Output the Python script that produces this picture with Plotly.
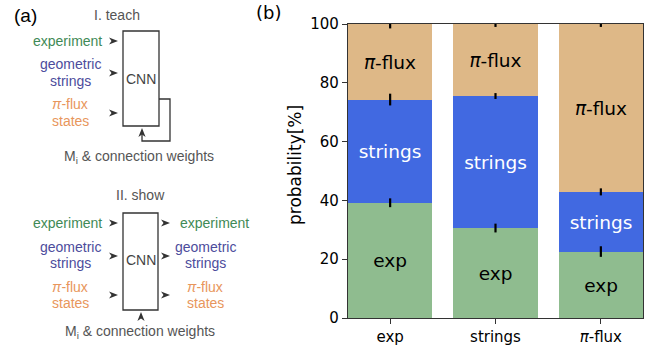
import plotly.graph_objects as go

# ---------------- data (panel b) ----------------
categories = ["exp", "strings", "<i>π</i>-flux"]
exp_vals = [39.2, 30.6, 22.6]
strings_vals = [35.1, 44.9, 20.3]
pflux_vals = [25.7, 24.5, 57.1]
exp_err = [1.5, 1.5, 1.8]
strings_err = [2.0, 1.0, 1.2]
pflux_err = [1.5, 1.0, 1.0]
segment_labels = ["exp", "strings", "<i>π</i>-flux"]
yticks = [0, 20, 40, 60, 80, 100]

W, H = 654, 349
X = lambda px: px / W
Y = lambda py: 1 - py / H

fig = go.Figure()
series = [
    (exp_vals, exp_err, "#8fbc8f", segment_labels[0], "black"),
    (strings_vals, strings_err, "#4169e1", segment_labels[1], "white"),
    (pflux_vals, pflux_err, "#deb887", segment_labels[2], "black"),
]
xs = [0, 1, 2]
for vals, err, col, lab, tcol in series:
    fig.add_trace(go.Bar(
        x=xs, y=vals, width=0.8, marker=dict(color=col, line=dict(width=0)),
        text=[lab] * len(vals), textposition="inside", insidetextanchor="middle",
        textangle=0, textfont=dict(family="DejaVu Sans", size=18.5, color=tcol),
        showlegend=False, hoverinfo="skip",
    ))

# error bars at the top of each stacked segment (drawn above all bars)
cum = [0.0] * len(xs)
for vals, err, col, lab, tcol in series:
    cum = [c + v for c, v in zip(cum, vals)]
    fig.add_trace(go.Scatter(
        x=xs, y=cum, mode="markers", marker=dict(size=1, opacity=0),
        error_y=dict(type="data", array=err, visible=True, color="black", thickness=2.2, width=0),
        showlegend=False, hoverinfo="skip",
    ))

axfont = dict(family="DejaVu Sans", size=15, color="black")
fig.update_layout(
    width=W, height=H, barmode="stack", bargap=0,
    margin=dict(l=0, r=0, t=0, b=0),
    paper_bgcolor="white", plot_bgcolor="white",
    xaxis=dict(domain=[348 / W, 643 / W], range=[-0.4, 2.4], tickvals=xs,
               ticktext=categories, ticks="outside", ticklen=5, tickwidth=1.2,
               tickcolor="#333", showline=True, linecolor="#333", linewidth=1.3,
               mirror=True, showgrid=False, zeroline=False, tickfont=axfont,
               automargin=False),
    yaxis=dict(domain=[1 - 318 / H, 1 - 24 / H], range=[0, 100], tickvals=yticks,
               ticks="outside", ticklen=5, tickwidth=1.2, tickcolor="#333",
               showline=True, linecolor="#333", linewidth=1.3, mirror=True,
               showgrid=False, zeroline=False, tickfont=axfont, automargin=False),
)

anns = []
shapes = []

def txt(px, py, s, color="#555555", size=14, xanchor="center", family="Liberation Sans, Arial"):
    anns.append(dict(x=X(px), y=Y(py), xref="paper", yref="paper", text=s, showarrow=False,
                     xanchor=xanchor, yanchor="middle", font=dict(family=family, size=size, color=color)))

def rect(x0, y0, x1, y1):
    shapes.append(dict(type="rect", xref="paper", yref="paper", x0=X(x0), x1=X(x1),
                       y0=Y(y0), y1=Y(y1), line=dict(color="#333333", width=1.3)))

def poly(pts, fill=None, width=1.3):
    d = "M " + " L ".join(f"{X(a):.5f},{Y(b):.5f}" for a, b in pts)
    if fill:
        d += " Z"
    shapes.append(dict(type="path", xref="paper", yref="paper", path=d,
                       line=dict(color="#333333", width=0 if fill else width),
                       fillcolor=fill if fill else "rgba(0,0,0,0)"))

def arrow_right(xt, y):
    poly([(xt, y), (xt - 9, y - 3.6), (xt - 6.5, y), (xt - 9, y + 3.6)], fill="#333333")

def arrow_up(x, yt):
    poly([(x, yt), (x - 3.6, yt + 9), (x, yt + 6.5), (x + 3.6, yt + 9)], fill="#333333")

GREEN, PURPLE, ORANGE = "#3f8a56", "#4c4c9c", "#e8965c"

# panel labels
txt(25, 15, "(a)", color="black", size=19)
txt(268, 12, "(b)", color="black", size=18, family="DejaVu Sans")

# ---- I. teach ----
txt(117, 15, "I. teach")
rect(123, 31, 159, 126)
txt(141, 79, "CNN", color="#444444")
txt(104, 41, "experiment", color=GREEN, xanchor="right")
txt(70, 64, "geometric", color=PURPLE)
txt(70, 81, "strings", color=PURPLE)
txt(70, 104, "<i>π</i>-flux", color=ORANGE)
txt(70, 121, "states", color=ORANGE)
for yy in (41, 73, 113):
    arrow_right(118, yy)
poly([(159, 99), (170, 99), (170, 141), (142, 141), (142, 134)])
arrow_up(142, 128)
txt(139, 157, "M<sub>i</sub> &amp; connection weights")

# ---- II. show ----
txt(140, 195, "II. show")
rect(123, 213, 158, 310)
txt(141, 260, "CNN", color="#444444")
txt(104, 223, "experiment", color=GREEN, xanchor="right")
txt(70, 247, "geometric", color=PURPLE)
txt(70, 263, "strings", color=PURPLE)
txt(70, 287, "<i>π</i>-flux", color=ORANGE)
txt(70, 303, "states", color=ORANGE)
for yy in (223, 256, 295):
    arrow_right(118, yy)
    arrow_right(170, yy)
txt(178, 223, "experiment", color=GREEN, xanchor="left")
txt(205, 247, "geometric", color=PURPLE)
txt(205, 263, "strings", color=PURPLE)
txt(205, 287, "<i>π</i>-flux", color=ORANGE)
txt(205, 303, "states", color=ORANGE)
arrow_up(141, 312)
txt(140, 332, "M<sub>i</sub> &amp; connection weights")

# y axis title
anns.append(dict(x=X(295), y=Y(165), xref="paper", yref="paper", text="probability[%]",
                 showarrow=False, textangle=-90, xanchor="center", yanchor="middle",
                 font=dict(family="DejaVu Sans", size=17, color="black")))

fig.update_layout(annotations=anns, shapes=shapes)
fig.write_html("out.html", config={"displayModeBar": False},
               post_script="document.body.style.margin='0';document.body.style.overflow='hidden';")
